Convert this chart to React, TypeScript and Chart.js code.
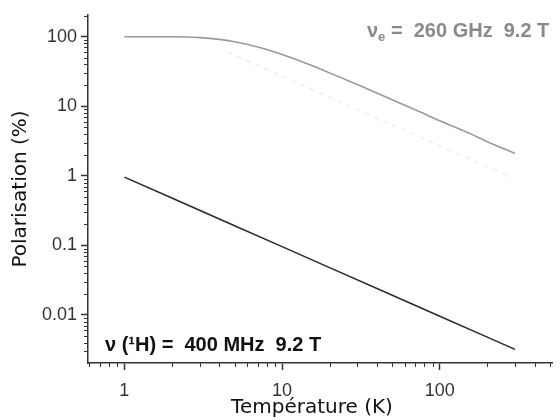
import React, { useEffect, useRef } from 'react';
import { Chart, registerables } from 'chart.js';

Chart.register(...registerables);

// Data
const protonT = [1, 2, 5, 10, 20, 50, 100, 200, 300];
const protonP = [0.96, 0.48, 0.192, 0.096, 0.048, 0.0192, 0.0096, 0.0048, 0.0032];
const electronT = [1, 2, 3, 4, 5, 6, 7, 8, 10, 15, 20, 30, 50, 70, 100, 150, 200, 300];
const electronP = [100, 99.6, 96.9, 91.5, 84.8, 77.8, 71.2, 65.3, 55.4, 39.4, 30.2, 20.5, 12.4, 8.9, 6.2, 4.2, 3.1, 2.1];
const faintT = [4.5, 10, 20, 50, 100, 200, 290];
const faintP = [60, 27, 13.5, 5.4, 2.7, 1.35, 0.95];

const xMajorValues = [1, 10, 100];
const xTickLabels = ['1', '10', '100'];
const yMajorValues = [0.01, 0.1, 1, 10, 100];
const yTickLabels = ['0.01', '0.1', '1', '10', '100'];
const xRange = [0.588, 517];
const yRange = [0.00204, 205];

const xTitle = 'Température (K)';
const yTitle = 'Polarisation (%)';
const electronLabel = ['ν', 'e', ' =  260 GHz  9.2 T'];
const protonLabel = 'ν (¹H) =  400 MHz  9.2 T';

function buildLogTicks(min: number, max: number) {
  const ticks: any[] = [];
  const e0 = Math.floor(Math.log10(min));
  const e1 = Math.ceil(Math.log10(max));
  for (let e = e0; e <= e1; e++) {
    for (let m = 1; m <= 9; m++) {
      const v = parseFloat((m * Math.pow(10, e)).toPrecision(6));
      if (v >= min && v <= max) ticks.push({ value: v, major: m === 1 });
    }
  }
  return ticks;
}

function labelFor(value: number, majors: number[], labels: string[]) {
  for (let i = 0; i < majors.length; i++) {
    if (Math.abs(value - majors[i]) / majors[i] < 1e-6) return labels[i];
  }
  return '';
}

const AXIS_COLOR = '#333';

const decorPlugin = {
  id: 'decor',
  afterDraw(chart: any) {
    const ctx = chart.ctx;
    const xs = chart.scales.x;
    const ys = chart.scales.y;
    const area = chart.chartArea;
    ctx.save();
    // minor ticks
    ctx.strokeStyle = AXIS_COLOR;
    ctx.lineWidth = 1;
    xs.ticks.forEach((t: any) => {
      if (t.major) return;
      const px = Math.round(xs.getPixelForValue(t.value)) + 0.5;
      ctx.beginPath();
      ctx.moveTo(px, area.bottom);
      ctx.lineTo(px, area.bottom + 4);
      ctx.stroke();
    });
    ys.ticks.forEach((t: any) => {
      if (t.major) return;
      const py = Math.round(ys.getPixelForValue(t.value)) + 0.5;
      ctx.beginPath();
      ctx.moveTo(area.left, py);
      ctx.lineTo(area.left - 4, py);
      ctx.stroke();
    });

    // axis titles
    ctx.fillStyle = '#111';
    ctx.font = '20px "DejaVu Sans"';
    ctx.textAlign = 'center';
    ctx.textBaseline = 'alphabetic';
    ctx.fillText(xTitle, area.left + 224, 413);
    ctx.save();
    ctx.translate(26, (area.top + area.bottom) / 2);
    ctx.rotate(-Math.PI / 2);
    ctx.fillText(yTitle, 0, 0);
    ctx.restore();

    // annotations
    ctx.textAlign = 'left';
    ctx.fillStyle = '#8a8a8a';
    let x0 = 367;
    const yb = 37;
    ctx.font = 'bold 20px "Liberation Sans"';
    ctx.fillText(electronLabel[0], x0, yb);
    x0 += ctx.measureText(electronLabel[0]).width;
    ctx.font = 'bold 13px "Liberation Sans"';
    ctx.fillText(electronLabel[1], x0, yb + 4);
    x0 += ctx.measureText(electronLabel[1]).width;
    ctx.font = 'bold 20px "Liberation Sans"';
    ctx.fillText(electronLabel[2], x0, yb);

    ctx.fillStyle = '#111';
    ctx.fillText(protonLabel, 105, 351);
    ctx.restore();
  },
};

export default function App() {
  const ref = useRef<HTMLCanvasElement | null>(null);
  useEffect(() => {
    document.body.style.margin = '0';
    const canvas = ref.current;
    if (!canvas) return;
    const chart = new Chart(canvas, {
      type: 'line',
      data: {
        datasets: [
          {
            label: 'faint',
            data: faintT.map((t, i) => ({ x: t, y: faintP[i] })),
            borderColor: '#ededed',
            borderWidth: 1.5,
            borderDash: [5, 5],
            pointRadius: 0,
            tension: 0.3,
          },
          {
            label: 'electron',
            data: electronT.map((t, i) => ({ x: t, y: electronP[i] })),
            borderColor: '#9a9a9a',
            borderWidth: 1.6,
            pointRadius: 0,
            cubicInterpolationMode: 'monotone',
          },
          {
            label: 'proton',
            data: protonT.map((t, i) => ({ x: t, y: protonP[i] })),
            borderColor: '#2a2a2a',
            borderWidth: 1.5,
            pointRadius: 0,
          },
        ],
      },
      options: {
        responsive: false,
        animation: false,
        devicePixelRatio: 1,
        layout: { padding: { top: 15, right: 0, left: 0, bottom: 0 } },
        plugins: { legend: { display: false }, tooltip: { enabled: false } },
        scales: {
          x: {
            type: 'logarithmic',
            min: xRange[0],
            max: xRange[1],
            afterBuildTicks: (scale: any) => {
              scale.ticks = buildLogTicks(scale.min, scale.max);
            },
            afterFit: (scale: any) => {
              scale.height = 57;
            },
            border: { display: true, color: AXIS_COLOR, width: 1.5 },
            grid: {
              drawOnChartArea: false,
              drawTicks: true,
              tickLength: 7,
              tickWidth: 1.5,
              tickColor: (c: any) => (c.tick && c.tick.major ? AXIS_COLOR : 'rgba(0,0,0,0)'),
            },
            ticks: {
              autoSkip: false,
              maxRotation: 0,
              padding: 10,
              color: '#333',
              font: { family: '"Liberation Sans"', size: 18 },
              callback: (v: any) => labelFor(Number(v), xMajorValues, xTickLabels),
            },
          },
          y: {
            type: 'logarithmic',
            min: yRange[0],
            max: yRange[1],
            afterBuildTicks: (scale: any) => {
              scale.ticks = buildLogTicks(scale.min, scale.max);
            },
            afterFit: (scale: any) => {
              scale.width = 88;
            },
            border: { display: true, color: AXIS_COLOR, width: 1.5 },
            grid: {
              drawOnChartArea: false,
              drawTicks: true,
              tickLength: 7,
              tickWidth: 1.5,
              tickColor: (c: any) => (c.tick && c.tick.major ? AXIS_COLOR : 'rgba(0,0,0,0)'),
            },
            ticks: {
              autoSkip: false,
              padding: 4,
              color: '#333',
              font: { family: '"Liberation Sans"', size: 18 },
              callback: (v: any) => labelFor(Number(v), yMajorValues, yTickLabels),
            },
          },
        },
      } as any,
      plugins: [decorPlugin],
    });
    return () => chart.destroy();
  }, []);
  return (
    <div style={{ width: 560, height: 420, background: '#fff' }}>
      <canvas ref={ref} width={560} height={420} style={{ display: 'block' }} />
    </div>
  );
}
